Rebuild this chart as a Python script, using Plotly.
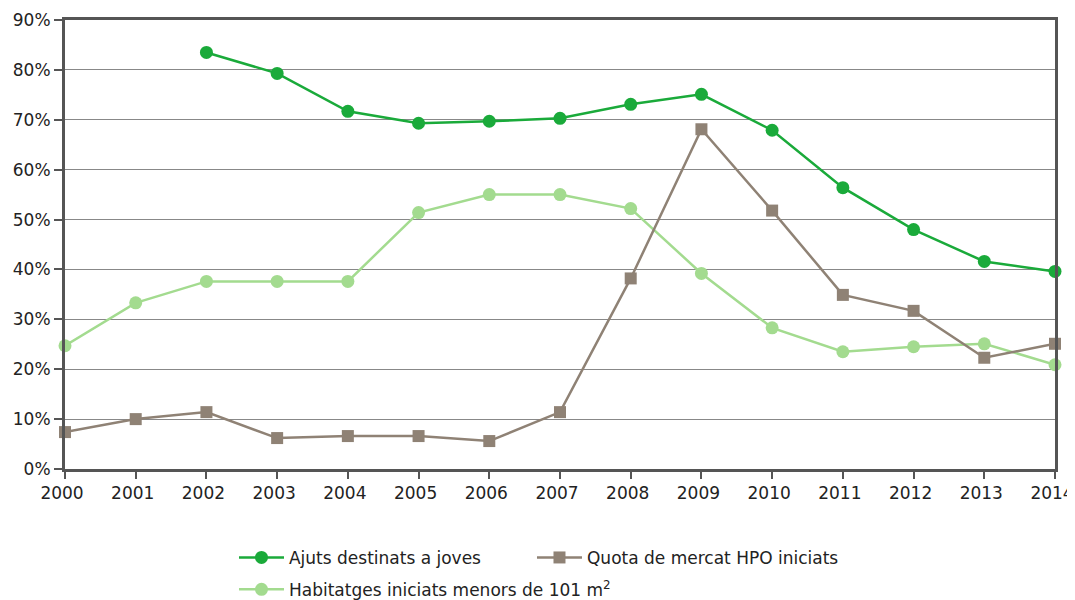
import plotly.graph_objects as go

years = list(range(2000, 2015))
ajuts = [None, None, 83.5, 79.3, 71.7, 69.3, 69.7, 70.3, 73.1, 75.1, 67.9, 56.4, 48.0, 41.6, 39.6]
quota = [7.4, 10.0, 11.4, 6.2, 6.6, 6.6, 5.6, 11.4, 38.2, 68.1, 51.8, 34.9, 31.7, 22.3, 25.1]
habitatges = [24.7, 33.3, 37.6, 37.6, 37.6, 51.4, 55.0, 55.0, 52.2, 39.2, 28.3, 23.5, 24.5, 25.1, 20.9]

names = ["Ajuts destinats a joves", "Quota de mercat HPO iniciats",
         "Habitatges iniciats menors de 101 m<sup>2</sup>"]
y_ticks = list(range(0, 91, 10))

c_dark = "#1aaa3a"
c_light = "#a3db8f"
c_brown = "#8f8275"

fig = go.Figure()
fig.add_trace(go.Scatter(x=years, y=habitatges, name=names[2], mode="lines+markers",
                         line=dict(color=c_light, width=2.5),
                         marker=dict(symbol="circle", size=13, color=c_light),
                         cliponaxis=False, legend="legend2"))
fig.add_trace(go.Scatter(x=years, y=quota, name=names[1], mode="lines+markers",
                         line=dict(color=c_brown, width=2.5),
                         marker=dict(symbol="square", size=12, color=c_brown),
                         cliponaxis=False, legend="legend3"))
fig.add_trace(go.Scatter(x=years, y=ajuts, name=names[0], mode="lines+markers",
                         line=dict(color=c_dark, width=2.5),
                         marker=dict(symbol="circle", size=13, color=c_dark),
                         cliponaxis=False, legend="legend"))

leg_common = dict(orientation="h", xanchor="left", yanchor="middle",
                  font=dict(size=17), itemwidth=45, bgcolor="rgba(0,0,0,0)")

fig.update_layout(
    width=1067, height=592,
    margin=dict(l=57, r=20, t=12, b=131, autoexpand=False),
    paper_bgcolor="white", plot_bgcolor="white",
    font=dict(family="DejaVu Sans, Arial, sans-serif", color="#222", size=17),
    xaxis=dict(range=[2000, 2014], tickmode="array", tickvals=years,
               ticks="outside", ticklen=7, tickwidth=2, tickcolor="#555",
               showline=True, linecolor="#555", linewidth=3, mirror=True,
               showgrid=False, zeroline=False, tickfont=dict(size=17),
               ticklabelshift=-3,
               automargin=False, ticklabeloverflow="allow"),
    yaxis=dict(range=[0, 90], tickmode="array", tickvals=y_ticks,
               ticktext=[f"{v}%" for v in y_ticks],
               ticks="outside", ticklen=8, tickwidth=2, tickcolor="#555",
               showline=True, linecolor="#555", linewidth=3, mirror=True,
               showgrid=True, gridcolor="#888", gridwidth=1, zeroline=False,
               tickfont=dict(size=17), automargin=False, ticklabeloverflow="allow"),
    legend=dict(x=0.1707, y=-0.198, **leg_common),
    legend3=dict(x=0.4717, y=-0.198, **leg_common),
    legend2=dict(x=0.1707, y=-0.269, **leg_common),
    showlegend=True,
)

fig.write_html("out.html")
